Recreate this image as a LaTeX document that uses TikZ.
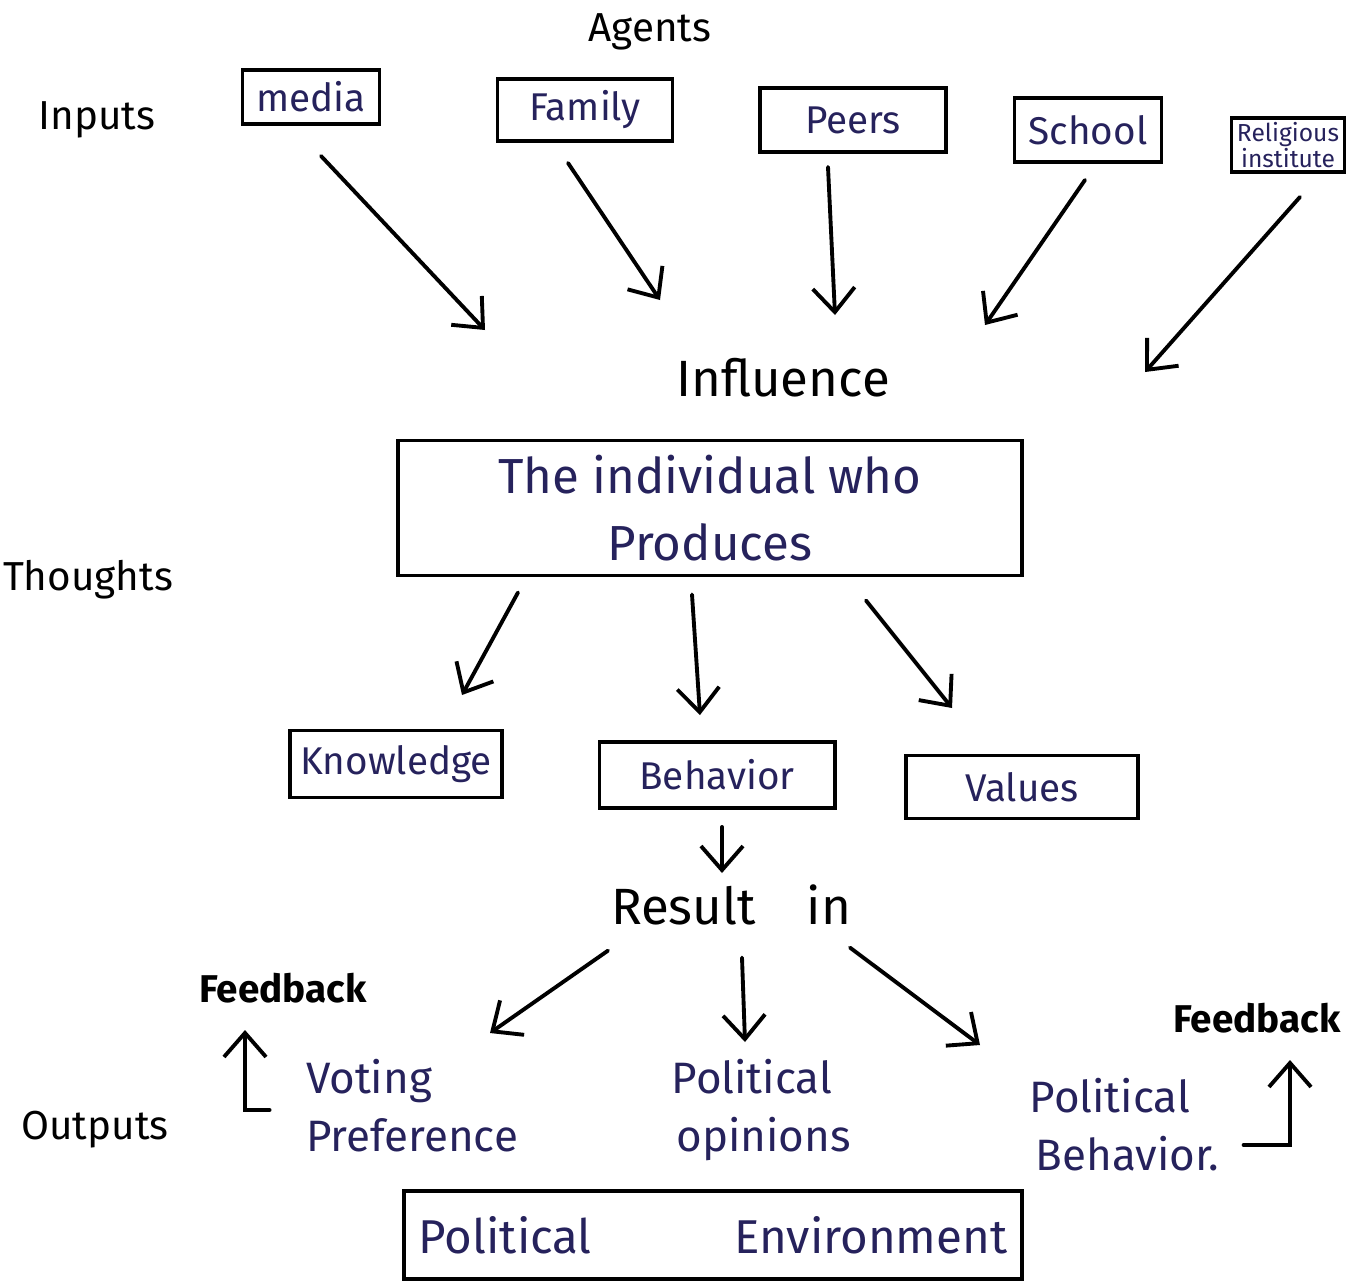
\documentclass[tikz,border=0pt]{standalone}
\usepackage{fontspec}
\setmainfont{Fira Sans}
\usetikzlibrary{positioning,calc,arrows.meta}
\definecolor{ink}{RGB}{38,34,92}

\begin{document}
\begin{tikzpicture}[
  x=0.01cm,y=-0.01cm,
  every node/.style={font=\fontsize{11}{13}\selectfont},
  heading/.style={font=\fontsize{11.5}{14}\selectfont},
  big-heading/.style={font=\fontsize{14.5}{18}\selectfont},
  fb-text/.style={font=\bfseries\fontsize{11}{14}\selectfont},
  agent-box/.style={draw,line width=1.1pt,text=ink,inner sep=2pt},
  out-text/.style={text=ink,font=\fontsize{12.5}{16.5}\selectfont},
  hand-arrow/.style={draw,line width=1.1pt,line cap=round,
    -{Straight Barb[length=2.4mm,width=4.2mm]}},
  ]
  \useasboundingbox (0,0) rectangle (1369,1281);

  % inputs
  \node[heading] (agents-label) at (650,32) {Agents};
  \node[heading] (inputs-label) at (97,120) {Inputs};
  \node[agent-box,minimum width=1.37cm,minimum height=0.54cm] (media) at (311,97) {media};
  \node[agent-box,minimum width=1.75cm,minimum height=0.62cm] (family) at (585,110) {Family};
  \node[agent-box,minimum width=1.86cm,minimum height=0.64cm] (peers) at (853,120) {Peers};
  \node[agent-box,minimum width=1.47cm,minimum height=0.64cm] (school) at (1088,130) {School};
  \node[agent-box,minimum width=1.13cm,minimum height=0.54cm,align=center,inner sep=1pt,
    font=\fontsize{7}{7.5}\selectfont] (religious) at (1288,145) {Religious\\institute};

  \coordinate (media-tip) at (485,330);
  \coordinate (family-tip) at (660,300);
  \coordinate (peers-tip) at (835,315);
  \coordinate (school-tip) at (985,325);
  \coordinate (religious-tip) at (1145,372);
  \draw[hand-arrow] ($(media.south)+(10,30)$) -- (media-tip);
  \draw[hand-arrow] ($(family.south)+(-17,20)$) -- (family-tip);
  \draw[hand-arrow] ($(peers.south)+(-25,13)$) -- (peers-tip);
  \draw[hand-arrow] ($(school.south)+(-3,16)$) -- (school-tip);
  \draw[hand-arrow] ($(religious.south)+(12,23)$) -- (religious-tip);

  % individual
  \node[big-heading] (influence-label) at (783,378) {Influence};
  \node[agent-box,minimum width=6.24cm,minimum height=1.35cm,align=center,
    font=\fontsize{14}{19}\selectfont] (individual) at (710,508) {The individual who\\Produces};

  % thoughts
  \node[heading] (thoughts-label) at (88,580) {Thoughts};
  \node[agent-box,minimum width=2.12cm,minimum height=0.67cm] (knowledge) at (396,764) {Knowledge};
  \node[agent-box,minimum width=2.35cm,minimum height=0.66cm] (behavior) at (717,775) {Behavior};
  \node[agent-box,minimum width=2.32cm,minimum height=0.63cm] (values) at (1022,787) {Values};

  \coordinate (knowledge-tip) at (462,695);
  \coordinate (behavior-tip) at (700,715);
  \coordinate (values-tip) at (952,708);
  \draw[hand-arrow] ($(individual.south)+(-192,15)$) -- (knowledge-tip);
  \draw[hand-arrow] ($(individual.south)+(-18,17)$) -- (behavior-tip);
  \draw[hand-arrow] ($(individual.south)+(156,23)$) -- (values-tip);

  \coordinate (result-tip) at (722,873);
  \draw[hand-arrow] ($(behavior.south)+(5,17)$) -- (result-tip);
  \node[big-heading] (result-label) at (731,905) {Result\quad in};

  % outputs
  \node[fb-text] (feedback-left) at (283,988) {Feedback};
  \node[fb-text] (feedback-right) at (1257,1018) {Feedback};
  \node[heading] (outputs-label) at (95,1130) {Outputs};
  \node[out-text,align=left] (voting) at (412,1106) {Voting\\Preference};
  \node[out-text,align=center] (opinions) at (752,1110) {Political\\\ \ opinions};
  \node[out-text,align=center] (pol-behavior) at (1110,1125) {Political\\\ \ \ Behavior.};

  \coordinate (voting-tip) at (490,1033);
  \coordinate (opinions-tip) at (745,1042);
  \coordinate (pol-behavior-tip) at (980,1045);
  \draw[hand-arrow] ($(result-label.south)+(-123,13)$) -- (voting-tip);
  \draw[hand-arrow] ($(result-label.south)+(11,20)$) -- (opinions-tip);
  \draw[hand-arrow] ($(result-label.south)+(119,10)$) -- (pol-behavior-tip);

  \coordinate (fb-left-tip) at (245,1030);
  \coordinate (fb-right-tip) at (1290,1060);
  \draw[hand-arrow] ($(voting.west)+(-24,4)$) -| (fb-left-tip);
  \draw[hand-arrow] ($(pol-behavior.east)+(12,20)$) -| (fb-right-tip);

  \node[agent-box,minimum width=6.17cm,minimum height=0.88cm,
    font=\fontsize{13.5}{17}\selectfont] (environment) at (713,1235) {Political\qquad\quad Environment};

\end{tikzpicture}
\end{document}
